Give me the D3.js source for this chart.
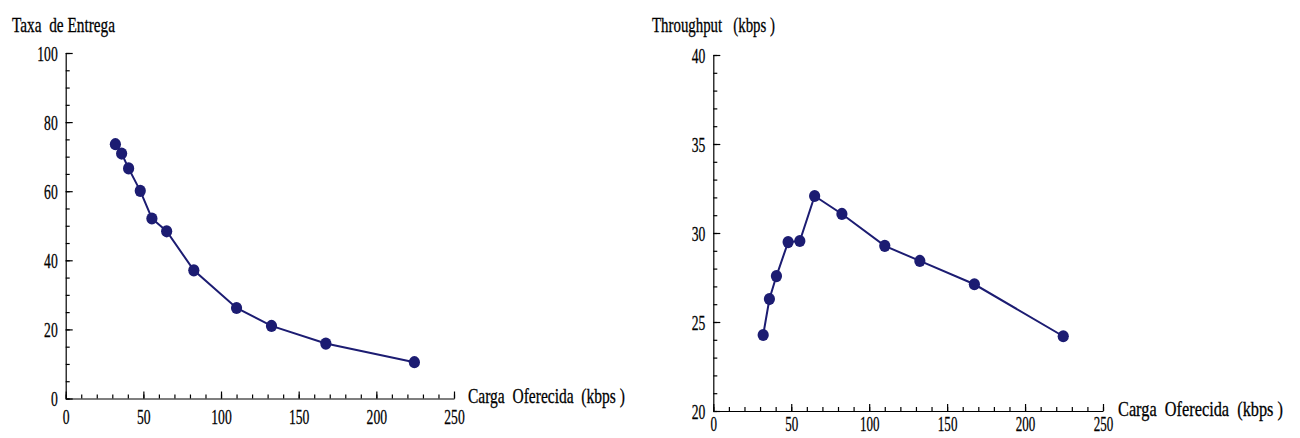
<!DOCTYPE html>
<html>
<head>
<meta charset="utf-8">
<script src="https://cdn.jsdelivr.net/npm/d3@7"></script>
<style>
  html, body { margin: 0; padding: 0; background: #fff; }
  svg { display: block; }
  text { white-space: pre; }
</style>
</head>
<body>
<svg id="chart" width="1300" height="438"></svg>
<script>
// offered load (kbps), shared by both panels
var cargaOferecida = [32, 36, 40.5, 48, 55.5, 65, 82.5, 110, 132.5, 167.5, 224.5];
// delivery rate (%)
var taxaEntrega = [73.6, 70.9, 66.6, 60.1, 52.1, 48.4, 37.1, 26.2, 21.0, 15.9, 10.5];
// throughput (kbps)
var throughput = [24.27, 26.29, 27.58, 29.49, 29.55, 32.08, 31.07, 29.28, 28.43, 27.12, 24.2];

var cargaTicks = [0, 50, 100, 150, 200, 250],
    taxaTicks = [0, 20, 40, 60, 80, 100],
    throughputTicks = [20, 25, 30, 35, 40];

var INK = "#1c1c72",
    FONT = "Liberation Serif, Times New Roman, serif",
    SQUEEZE = 0.62;

var svg = d3.select("#chart");

function squeezeTicks(sel, side, pad, size) {
  sel.selectAll(".tick text")
    .attr("font-family", FONT)
    .attr("font-size", size || 22)
    .attr("fill", "#000")
    .attr("stroke", "#000")
    .attr("stroke-width", 0.3)
    .attr("transform", "scale(" + SQUEEZE + ",1)");
  if (side === "left") {
    sel.selectAll(".tick text").attr("x", -pad / SQUEEZE);
  }
}

// squeezed title: natural text scaled horizontally to width w
function title(g, t) {
  var el = g.append("text")
      .attr("font-family", FONT)
      .attr("font-size", 22)
      .attr("stroke", "#000")
      .attr("stroke-width", 0.3)
      .text(t.text);
  var natural = el.node().getComputedTextLength();
  el.attr("transform", "translate(" + t.x + "," + t.y + ") scale(" + (t.w / natural) + ",1)");
}

function drawPanel(opts) {
  var x = d3.scaleLinear().domain([0, 250]).range(opts.xRange),
      y = d3.scaleLinear().domain(opts.yDomain).range(opts.yRange);

  var g = svg.append("g");

  // minor ticks
  g.append("g")
      .attr("transform", "translate(0," + opts.yRange[0] + ")")
      .call(d3.axisBottom(x).tickValues(d3.range(0, 251, 10)).tickSize(-4).tickFormat(""))
      .call(function (a) { a.select(".domain").remove(); });
  g.append("g")
      .attr("transform", "translate(" + opts.xRange[0] + ",0)")
      .call(d3.axisLeft(y).tickValues(d3.range(opts.yDomain[0], opts.yDomain[1] + 0.001, opts.yMinor)).tickSize(-4).tickFormat(""))
      .call(function (a) { a.select(".domain").remove(); });

  // major ticks + labels
  var xa = g.append("g")
      .attr("transform", "translate(0," + opts.yRange[0] + ")")
      .call(d3.axisBottom(x).tickValues(cargaTicks).tickSizeInner(-7).tickSizeOuter(0).tickPadding(opts.xPad));
  squeezeTicks(xa, "bottom", 0, opts.xSize);

  var ya = g.append("g")
      .attr("transform", "translate(" + opts.xRange[0] + ",0)")
      .call(d3.axisLeft(y).tickValues(opts.yTicks).tickSizeInner(-7).tickSizeOuter(0));
  squeezeTicks(ya, "left", 8);

  g.selectAll(".domain, .tick line").attr("stroke", "#000").attr("stroke-width", 1.2);

  var line = d3.line()
      .x(function (d, i) { return x(cargaOferecida[i]); })
      .y(function (d) { return y(d); });

  g.append("path")
      .datum(opts.values)
      .attr("fill", "none")
      .attr("stroke", INK)
      .attr("stroke-width", 2)
      .attr("d", line);

  g.selectAll(".dot")
    .data(opts.values)
    .enter().append("ellipse")
      .attr("class", "dot")
      .attr("cx", function (d, i) { return x(cargaOferecida[i]); })
      .attr("cy", function (d) { return y(d); })
      .attr("rx", 5.6)
      .attr("ry", 6.1)
      .attr("fill", INK);

  title(g, opts.yTitle);
  title(g, opts.xTitle);
}

drawPanel({
  xRange: [65.7, 454],
  yRange: [398.5, 53],
  yDomain: [0, 100],
  yTicks: taxaTicks,
  yMinor: 5,
  xPad: 10,
  values: taxaEntrega,
  yTitle: {text: "Taxa  de Entrega", x: 12, y: 32, w: 103},
  xTitle: {text: "Carga  Oferecida  (kbps )", x: 468, y: 403, w: 157}
});

drawPanel({
  xRange: [713.3, 1103],
  yRange: [411, 55],
  yDomain: [20, 40],
  yTicks: throughputTicks,
  yMinor: 1,
  xPad: 5,
  xSize: 21,
  values: throughput,
  yTitle: {text: "Throughput   (kbps )", x: 652, y: 32, w: 123},
  xTitle: {text: "Carga  Oferecida  (kbps )", x: 1118, y: 416, w: 165}
});
</script>
</body>
</html>
